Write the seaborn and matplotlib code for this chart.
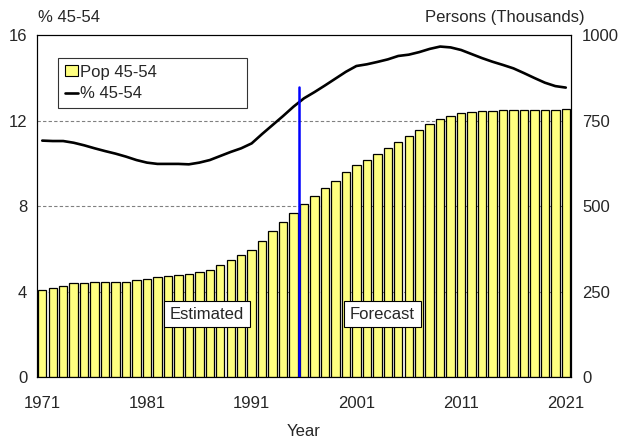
import numpy as np
import pandas as pd
import matplotlib
matplotlib.use("Agg")
import matplotlib.pyplot as plt
import seaborn as sns
from matplotlib.patches import Patch
from matplotlib.lines import Line2D

# ==============================
# DATA
# ==============================
years = list(range(1971, 2022))

pop_45_54 = [254, 259, 266, 274, 276, 277, 277, 279, 279, 284,
             288, 291, 294, 298, 302, 306, 313, 327, 341, 356,
             372, 399, 426, 452, 481, 506, 530, 552, 574, 598,
             621, 636, 653, 671, 686, 706, 723, 739, 753, 764,
             771, 775, 777, 779, 780, 782, 782, 781, 780, 780,
             784]

pct_45_54 = [11.06, 11.04, 11.04, 10.96, 10.84, 10.70, 10.57, 10.45, 10.31, 10.15,
             10.03, 9.97, 9.97, 9.97, 9.95, 10.03, 10.15, 10.34, 10.53, 10.70,
             10.93, 11.37, 11.79, 12.21, 12.65, 13.04, 13.33, 13.64, 13.96, 14.28,
             14.55, 14.63, 14.74, 14.86, 15.02, 15.08, 15.20, 15.35, 15.46, 15.42,
             15.30, 15.11, 14.92, 14.75, 14.60, 14.44, 14.22, 13.99, 13.77, 13.61,
             13.54]

labelled_years = [1971, 1981, 1991, 2001, 2011, 2021]
forecast_start = 1996
left_ticks = [0, 4, 8, 12, 16]
right_ticks = [0, 250, 500, 750, 1000]

df = pd.DataFrame({"Year": years, "Pop": pop_45_54, "Pct": pct_45_54})
df["pos"] = np.arange(len(df))

FS = 12

# ==============================
# PLOT
# ==============================
sns.set_style("white")
plt.rcParams["font.family"] = ["Liberation Sans", "DejaVu Sans"]

fig = plt.figure(figsize=(6.19, 4.41), dpi=100)
ax = fig.add_axes([0.0598, 0.1451, 0.8627, 0.7755])
ax2 = ax.twinx()

# % line on left axis
sns.lineplot(data=df, x="pos", y="Pct", ax=ax, color="black", linewidth=1.9)
ax.set_ylim(0, 16)
ax.set_yticks(left_ticks)
for t in [4, 8, 12]:
    ax.axhline(t, color="#808080", linestyle=(0, (3, 2)), linewidth=0.8, zorder=0)

# population bars on right axis
sns.barplot(data=df, x="pos", y="Pop", ax=ax2, color="#FFFF80",
            edgecolor="black", linewidth=0.9, width=0.8, saturation=1,
            native_scale=True)
ax2.set_ylim(0, 1000)
ax2.set_yticks(right_ticks)

ax.set_xlim(-0.5, len(years) - 0.5)
ax2.set_xlim(-0.5, len(years) - 0.5)

# x ticks: every year, labelled every 10
ax2.set_xticks(df["pos"])
ax2.set_xticklabels([])
ax.set_xticks(df["pos"])
ax.set_xticklabels([str(y) if y in labelled_years else "" for y in years], fontsize=FS)
ax.tick_params(axis="x", length=3, width=0.8, color="#404040", direction="out", pad=11)
for tick, y in zip(ax.xaxis.get_major_ticks(), years):
    if y in labelled_years:
        tick.tick1line.set_markersize(7)
ax2.tick_params(axis="x", length=0)

ax.tick_params(axis="y", length=0, labelsize=FS, pad=7)
ax2.tick_params(axis="y", length=0, labelsize=FS, pad=8)

for a in (ax, ax2):
    for s in a.spines.values():
        s.set_color("black")
        s.set_linewidth(0.8)

ax.set_xlabel("Year", fontsize=FS, labelpad=9)
ax.set_ylabel("")
ax2.set_ylabel("")

# forecast divider
split = years.index(forecast_start) - 0.5
ax2.plot([split, split], [0, 849], color="#0000FF", linewidth=1.8, zorder=5)

box = dict(boxstyle="square,pad=0.35", facecolor="white", edgecolor="black", linewidth=0.8)
ax2.text(15.7, 184, "Estimated", ha="center", va="center", fontsize=FS, bbox=box, zorder=6)
ax2.text(32.5, 184, "Forecast", ha="center", va="center", fontsize=FS, bbox=box, zorder=6)

# axis titles on top
fig.text(0.062, 0.961, "% 45-54", ha="left", va="center", fontsize=FS)
fig.text(0.945, 0.961, "Persons (Thousands)", ha="right", va="center", fontsize=FS)

handles = [Patch(facecolor="#FFFF80", edgecolor="black", linewidth=0.8),
           Line2D([0], [0], color="black", linewidth=1.9)]
leg = ax2.legend(handles, ["Pop 45-54", "% 45-54"], loc="upper left",
                 bbox_to_anchor=(0.0393, 0, 0.354, 0.933), mode="expand",
                 fontsize=FS, frameon=True, fancybox=False,
                 handlelength=0.8, handleheight=0.6, handletextpad=0.1,
                 borderpad=0.4, labelspacing=0.4, borderaxespad=0)
leg.get_frame().set_edgecolor("black")
leg.get_frame().set_linewidth(0.8)

fig.savefig("out.png", dpi=100)
plt.close(fig)
